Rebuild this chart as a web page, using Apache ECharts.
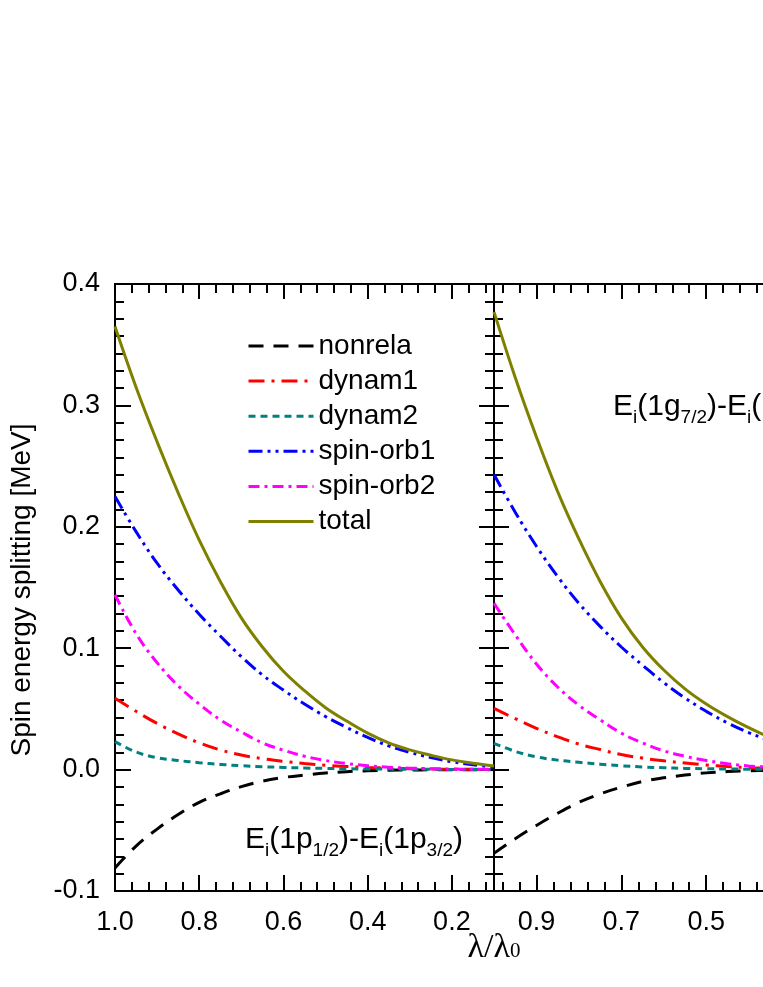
<!DOCTYPE html>
<html lang="en">
<head>
  <meta charset="UTF-8">
  <title>Spin energy splitting</title>
  <script src="https://cdn.jsdelivr.net/npm/echarts@6/dist/echarts.min.js"></script>
  <style>
    * {
      margin: 0;
      padding: 0
    }

    html, body {
      width: 100%;
      height: 100%;
      background: #fff;
    }

    #main {
      width: 763px;
      height: 987px;
    }
  </style>
</head>
<body>
<div id="main"></div>
<script type="text/javascript">
  /*-------------------- data --------------------*/
  // left panel: 1p_1/2 - 1p_3/2
  var lamL = [1.00, 0.95, 0.90, 0.85, 0.80, 0.75, 0.70, 0.65, 0.60, 0.55, 0.50, 0.45, 0.40, 0.35, 0.30, 0.25, 0.20, 0.15, 0.10];
  var nonrelaL = [-0.081, -0.063, -0.049, -0.037, -0.027, -0.020, -0.014, -0.0095, -0.0065, -0.0045, -0.0028, -0.0017, -0.0010, -0.0006, -0.0003, -0.0002, -0.0001, -0.0001, 0];
  var dynam1L = [0.0587, 0.048, 0.038, 0.0295, 0.022, 0.0162, 0.0120, 0.0090, 0.0068, 0.0050, 0.0036, 0.0026, 0.0018, 0.0012, 0.0008, 0.0005, 0.0003, 0.0002, 0.0001];
  var dynam2L = [0.023, 0.0145, 0.0098, 0.0075, 0.0057, 0.0043, 0.0032, 0.0024, 0.0018, 0.0013, 0.0010, 0.0007, 0.0005, 0.0004, 0.0003, 0.0002, 0.0001, 0.0001, 0];
  var spin1L = [0.225, 0.196, 0.170, 0.148, 0.128, 0.110, 0.0930, 0.078, 0.0655, 0.054, 0.0437, 0.0347, 0.0265, 0.0195, 0.0142, 0.0100, 0.0065, 0.004, 0.002];
  var spin2L = [0.144, 0.112, 0.088, 0.069, 0.054, 0.041, 0.031, 0.022, 0.016, 0.011, 0.0075, 0.005, 0.0032, 0.002, 0.0012, 0.0008, 0.0005, 0.0003, 0.0002];
  var totalL = [0.365, 0.315, 0.270, 0.228, 0.189, 0.155, 0.125, 0.101, 0.081, 0.065, 0.051, 0.040, 0.030, 0.022, 0.0162, 0.0118, 0.0080, 0.0052, 0.003];

  // right panel: 1g_7/2 - 1g_9/2 (cut off at the page edge)
  var lamR = [1.00, 0.95, 0.90, 0.85, 0.80, 0.75, 0.70, 0.65, 0.60, 0.55, 0.50, 0.45, 0.40, 0.35, 0.30];
  var nonrelaR = [-0.069, -0.057, -0.046, -0.036, -0.027, -0.020, -0.0145, -0.0098, -0.0068, -0.0045, -0.0027, -0.0016, -0.0010, -0.0006, -0.0003];
  var dynam1R = [0.0505, 0.042, 0.034, 0.027, 0.021, 0.0165, 0.0124, 0.0095, 0.0072, 0.0054, 0.0038, 0.0025, 0.0016, 0.0010, 0.0006];
  var dynam2R = [0.0217, 0.015, 0.0105, 0.0078, 0.0060, 0.0045, 0.0031, 0.0022, 0.0015, 0.0010, 0.0007, 0.0005, 0.0003, 0.0002, 0.0001];
  var spin1R = [0.243, 0.212, 0.184, 0.159, 0.137, 0.118, 0.101, 0.086, 0.0716, 0.0590, 0.0480, 0.0385, 0.0305, 0.0240, 0.0185];
  var spin2R = [0.137, 0.111, 0.087, 0.068, 0.053, 0.041, 0.0300, 0.0220, 0.0155, 0.011, 0.0075, 0.0048, 0.003, 0.002, 0.0012];
  var totalR = [0.377, 0.323, 0.274, 0.229, 0.190, 0.155, 0.125, 0.101, 0.082, 0.0665, 0.0540, 0.0436, 0.0345, 0.0265, 0.0200];

  // tick labels
  var xTicksL = [1.0, 0.8, 0.6, 0.4, 0.2];
  var xTicksR = [0.9, 0.7, 0.5, 0.3, 0.1];
  var yTicks = [-0.1, 0.0, 0.1, 0.2, 0.3, 0.4];

  var names = ['nonrela', 'dynam1', 'dynam2', 'spin-orb1', 'spin-orb2', 'total'];
  /*------------------------------------------------------------------*/

  var FONT = 'Liberation Sans, Arial, sans-serif';
  var SERIF = 'Liberation Serif, Times New Roman, serif';

  // minor ticks (5 per major on x, 7 per major on y)
  var xMinorL = [], xMinorR = [], yMinor = [];
  for (var k = 1; k <= 22; k++) {
    xMinorL.push(+(1 - 0.04 * k).toFixed(2));
    xMinorR.push(+(0.1 + 0.04 * k).toFixed(2));
  }
  for (var k = 1; k < 35; k++) yMinor.push(-0.1 + k * 0.1 / 7);

  var lineSty = {color: '#000', width: 2};
  var xAxes = [], yAxes = [];

  function addX(grid, pos, ticks, len, labels) {
    xAxes.push({
      type: 'value', gridIndex: grid, position: pos,
      min: 0.1, max: 1.0, inverse: true,
      axisLine: {show: true, onZero: false, lineStyle: lineSty},
      axisTick: {show: true, inside: true, length: len, customValues: ticks, lineStyle: lineSty},
      axisLabel: labels ? {
        show: true, customValues: ticks, margin: 18, fontSize: 27, color: '#000', fontFamily: FONT,
        hideOverlap: false,
        formatter: function (v) { return v.toFixed(1); }
      } : {show: false},
      splitLine: {show: false}
    });
    return xAxes.length - 1;
  }

  function addY(grid, pos, ticks, len, labels) {
    yAxes.push({
      type: 'value', gridIndex: grid, position: pos,
      min: -0.1, max: 0.4,
      axisLine: {show: true, onZero: false, lineStyle: lineSty},
      axisTick: {show: true, inside: true, length: len, customValues: ticks, lineStyle: lineSty},
      axisLabel: labels ? {
        show: true, customValues: ticks, margin: 15, fontSize: 27, color: '#000', fontFamily: FONT,
        formatter: function (v) { return v.toFixed(1); }
      } : {show: false},
      splitLine: {show: false}
    });
    return yAxes.length - 1;
  }

  // left frame
  var xL = addX(0, 'bottom', xTicksL, 16, true);
  addX(0, 'bottom', xMinorL, 9, false);
  addX(0, 'top', xTicksL, 15, false);
  addX(0, 'top', xMinorL, 9, false);
  var yL = addY(0, 'left', yTicks, 16, true);
  addY(0, 'left', yMinor, 9, false);
  addY(0, 'right', yTicks, 15, false);
  addY(0, 'right', yMinor, 9, false);

  // right frame
  var xR = addX(1, 'bottom', xTicksR, 16, true);
  addX(1, 'bottom', xMinorR, 9, false);
  addX(1, 'top', xTicksR, 15, false);
  addX(1, 'top', xMinorR, 9, false);
  var yR = addY(1, 'left', yTicks, 15, false);
  addY(1, 'left', yMinor, 9, false);
  addY(1, 'right', yTicks, 15, false);
  addY(1, 'right', yMinor, 9, false);

  var looks = {
    'nonrela': {color: '#000000', dash: [15, 10]},
    'dynam1': {color: '#ff0000', dash: [16, 7, 3, 7]},
    'dynam2': {color: '#008080', dash: [7, 5]},
    'spin-orb1': {color: '#0000ff', dash: [14, 5, 3, 5, 3, 5]},
    'spin-orb2': {color: '#ff00ff', dash: [11, 5, 3, 5]},
    'total': {color: '#808000', dash: 'solid'}
  };

  function pairs(xs, ys) {
    return xs.map(function (x, i) { return [x, ys[i]]; });
  }

  var setL = [nonrelaL, dynam1L, dynam2L, spin1L, spin2L, totalL];
  var setR = [nonrelaR, dynam1R, dynam2R, spin1R, spin2R, totalR];
  var series = [];
  names.forEach(function (n, i) {
    [[lamL, setL[i], xL, yL], [lamR, setR[i], xR, yR]].forEach(function (p) {
      series.push({
        name: n, type: 'line', xAxisIndex: p[2], yAxisIndex: p[3],
        data: pairs(p[0], p[1]), smooth: 0.4, symbol: 'none',
        color: looks[n].color,
        lineStyle: {color: looks[n].color, width: 3, type: looks[n].dash},
        silent: true, animation: false
      });
    });
  });

  var chart = echarts.init(document.getElementById('main'));
  chart.setOption({
    backgroundColor: '#fff',
    animation: false,
    grid: [
      {left: 115, top: 284, width: 379, height: 607, containLabel: false, outerBoundsMode: 'none'},
      {left: 494, top: 284, width: 382, height: 607, containLabel: false, outerBoundsMode: 'none'}
    ],
    xAxis: xAxes,
    yAxis: yAxes,
    legend: {
      data: names, orient: 'vertical', left: 247, top: 332, padding: 0,
      itemWidth: 65, itemHeight: 14, itemGap: 7.1, selectedMode: false,
      itemStyle: {opacity: 0},
      lineStyle: {width: 3},
      textStyle: {fontSize: 28, fontFamily: FONT, color: '#000', lineHeight: 24}
    },
    graphic: [
      {
        type: 'text', x: 22, y: 590, rotation: Math.PI / 2,
        style: {
          text: 'Spin energy splitting [MeV]', fill: '#000',
          font: '28px ' + FONT, textAlign: 'center', textVerticalAlign: 'middle'
        }
      },
      {
        type: 'text', x: 494, y: 946,
        style: {
          text: '{a|λ/λ}{b|0}', textAlign: 'center', textVerticalAlign: 'middle',
          rich: {
            a: {fontSize: 34, fontFamily: SERIF, color: '#000', lineHeight: 38, verticalAlign: 'bottom'},
            b: {fontSize: 21, fontFamily: SERIF, color: '#000', lineHeight: 27, verticalAlign: 'bottom', padding: [0, 0, 3, 0]}
          }
        }
      },
      {
        type: 'text', x: 463, y: 840,
        style: {
          text: '{m|E}{s|i}{m|(1p}{s|1/2}{m|)-E}{s|i}{m|(1p}{s|3/2}{m|)}',
          textAlign: 'right', textVerticalAlign: 'middle',
          rich: {
            m: {fontSize: 30, fontFamily: FONT, color: '#000', lineHeight: 40, verticalAlign: 'middle'},
            s: {fontSize: 19, fontFamily: FONT, color: '#000', lineHeight: 19, verticalAlign: 'bottom'}
          }
        }
      },
      {
        type: 'text', x: 613, y: 407,
        style: {
          text: '{m|E}{s|i}{m|(1g}{s|7/2}{m|)-E}{s|i}{m|(1g}{s|9/2}{m|)}',
          textAlign: 'left', textVerticalAlign: 'middle',
          rich: {
            m: {fontSize: 30, fontFamily: FONT, color: '#000', lineHeight: 40, verticalAlign: 'middle'},
            s: {fontSize: 19, fontFamily: FONT, color: '#000', lineHeight: 19, verticalAlign: 'bottom'}
          }
        }
      }
    ],
    series: series
  });
</script>
</body>
</html>
